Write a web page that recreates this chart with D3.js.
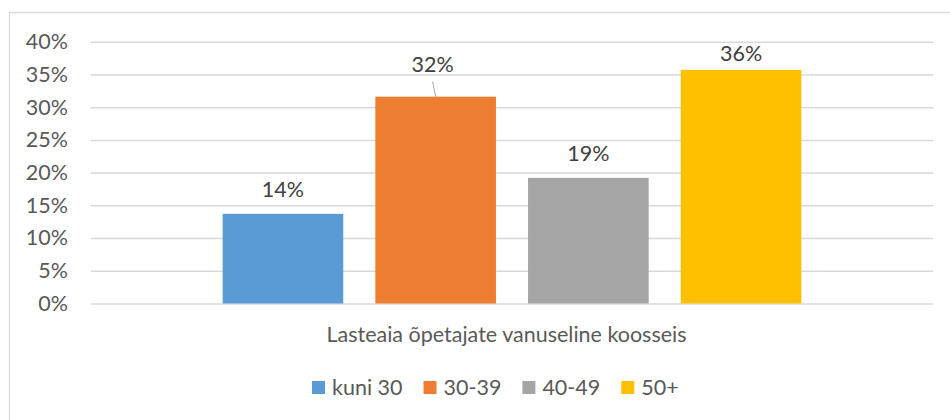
<!DOCTYPE html>
<html>
<head>
<meta charset="utf-8">
<script src="https://cdn.jsdelivr.net/npm/d3@7"></script>
<style>
  html, body { margin: 0; padding: 0; background: #ffffff; }
  svg { display: block; }
  text { font-family: Lato, "Open Sans", "Liberation Sans", sans-serif; }
</style>
</head>
<body>
<svg id="chart" width="950" height="420"></svg>
<script>
// ---- data ----
const categoryLabel = "Lasteaia õpetajate vanuseline koosseis";
const seriesNames = ["kuni 30", "30-39", "40-49", "50+"];
const seriesValues = [0.137, 0.316, 0.192, 0.357];
const valueLabels = ["14%", "32%", "19%", "36%"];
const yTicks = [0, 0.05, 0.10, 0.15, 0.20, 0.25, 0.30, 0.35, 0.40];
const seriesColors = ["#5b9bd5", "#ed7d31", "#a5a5a5", "#ffc000"];

// ---- layout ----
const svg = d3.select("#chart");
const fontSize = 21.5;
const textColor = "#595959";
const labelColor = "#404040";
const gridColor = "#d9d9d9";

const plot = { left: 91, right: 933, top: 41.7, bottom: 303.5 };

svg.append("rect").attr("width", 950).attr("height", 420).attr("fill", "#fff");

// chart border (cropped at right and bottom)
svg.append("path")
  .attr("d", "M9.5,420 L9.5,12.5 L950,12.5")
  .attr("fill", "none").attr("stroke", gridColor).attr("stroke-width", 1.3);

const y = d3.scaleLinear().domain([0, 0.4]).range([plot.bottom, plot.top]);
const x = d3.scaleBand().domain(seriesNames).range([plot.left, plot.right])
  .paddingInner(0.21).paddingOuter(0.862);

// y axis (gridlines + labels)
const yAxis = d3.axisLeft(y).tickValues(yTicks)
  .tickFormat(d3.format(".0%"))
  .tickSize(-(plot.right - plot.left)).tickPadding(23);
const gy = svg.append("g").attr("transform", `translate(${plot.left},0)`).call(yAxis);
gy.select(".domain").remove();
gy.selectAll(".tick line").attr("stroke", gridColor).attr("stroke-width", 1.5);
gy.selectAll(".tick text")
  .attr("fill", textColor).style("font-size", fontSize + "px")
  .style("font-family", "Lato, 'Open Sans', sans-serif");

// bars
const data = seriesNames.map((s, i) => ({ name: s, value: seriesValues[i], label: valueLabels[i], color: seriesColors[i] }));
svg.append("g").selectAll("rect").data(data).join("rect")
  .attr("x", d => x(d.name))
  .attr("width", x.bandwidth())
  .attr("y", d => y(d.value))
  .attr("height", d => y(0) - y(d.value))
  .attr("fill", d => d.color);

// data labels
const labelGap = 17;
const movedLabel = { index: 1, dx: -3, dy: -25 }; // label dragged up with leader line
const labels = svg.append("g");
data.forEach((d, i) => {
  const cx = x(d.name) + x.bandwidth() / 2;
  let by = y(d.value) - labelGap;
  by = Math.max(by, 61);
  let lx = cx;
  if (i === movedLabel.index) {
    lx = cx + movedLabel.dx;
    by = y(d.value) + movedLabel.dy;
    labels.append("line")
      .attr("x1", lx).attr("y1", by + 10)
      .attr("x2", cx).attr("y2", y(d.value))
      .attr("stroke", "#a6a6a6").attr("stroke-width", 1);
  }
  labels.append("text")
    .attr("x", lx).attr("y", by)
    .attr("text-anchor", "middle")
    .attr("fill", labelColor)
    .style("font-size", fontSize + "px")
    .text(d.label);
});

// category axis label
svg.append("text")
  .attr("x", 506.5).attr("y", 342)
  .attr("text-anchor", "middle")
  .attr("fill", textColor)
  .style("font-size", fontSize + "px")
  .text(categoryLabel);

// legend
const legend = svg.append("g");
let lxPos = 312;
const legendBaseline = 395;
const sq = 13;
seriesNames.forEach((s, i) => {
  legend.append("rect")
    .attr("x", lxPos).attr("y", legendBaseline - 14)
    .attr("width", sq).attr("height", sq)
    .attr("fill", seriesColors[i]);
  const t = legend.append("text")
    .attr("x", lxPos + sq + 7).attr("y", legendBaseline)
    .attr("fill", textColor)
    .style("font-size", fontSize + "px")
    .text(s);
  const w = t.node().getComputedTextLength();
  lxPos = lxPos + sq + 7 + w + 21;
});
</script>
</body>
</html>
